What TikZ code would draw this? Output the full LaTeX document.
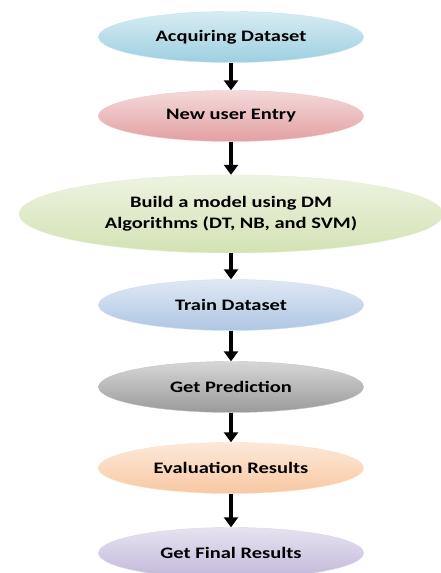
\documentclass[tikz,border=0pt]{standalone}
\usepackage{fontspec}
\setmainfont{Carlito}[FakeStretch=1.28]
\usetikzlibrary{shapes.geometric,arrows.meta}
\definecolor{cblue}{HTML}{9DCFE0}
\definecolor{cpink}{HTML}{E3A0A3}
\definecolor{cgreen}{HTML}{D3E2B4}
\definecolor{cblue2}{HTML}{AFC6E3}
\definecolor{cgray}{HTML}{9A9A9A}
\definecolor{corange}{HTML}{F8C8A2}
\definecolor{cpurple}{HTML}{C2B8DA}
\tikzset{
  stage/.style={ellipse, draw=#1!60!white, top color=#1!40!white, bottom color=#1,
    minimum width=265pt, minimum height=51pt, inner sep=0pt,
    font=\bfseries\fontsize{16}{21}\selectfont, align=center},
  flow/.style={line width=3.6pt, -{Triangle[length=10pt,width=14pt]}}
}
\begin{document}
\begin{tikzpicture}[x=1pt,y=-1pt]
            \useasboundingbox (0,0) rectangle (440,573);

            \node[stage=cblue] (acq) at (231,37) {Acquiring Dataset};
            \node[stage=cpink] (usr) at (231,116) {New user Entry};
            \node[stage=cgreen, minimum width=424pt, minimum height=78pt] (mdl) at (231,214)
                {Build a model using DM\\Algorithms (DT, NB, and SVM)};
            \node[stage=cblue2] (trn) at (231,305) {Train Dataset};
            \node[stage=cgray] (prd) at (231,387) {Get Prediction};
            \node[stage=corange] (evl) at (231,468) {Evaluation Results};
            \node[stage=cpurple] (fin) at (231,553) {Get Final Results};

            \draw[flow] (acq) -- (usr);
            \draw[flow] (usr) -- (mdl);
            \draw[flow] (mdl) -- (trn);
            \draw[flow] (trn) -- (prd);
            \draw[flow] (prd) -- (evl);
            \draw[flow] (evl) -- (fin);
        \end{tikzpicture}
\end{document}
